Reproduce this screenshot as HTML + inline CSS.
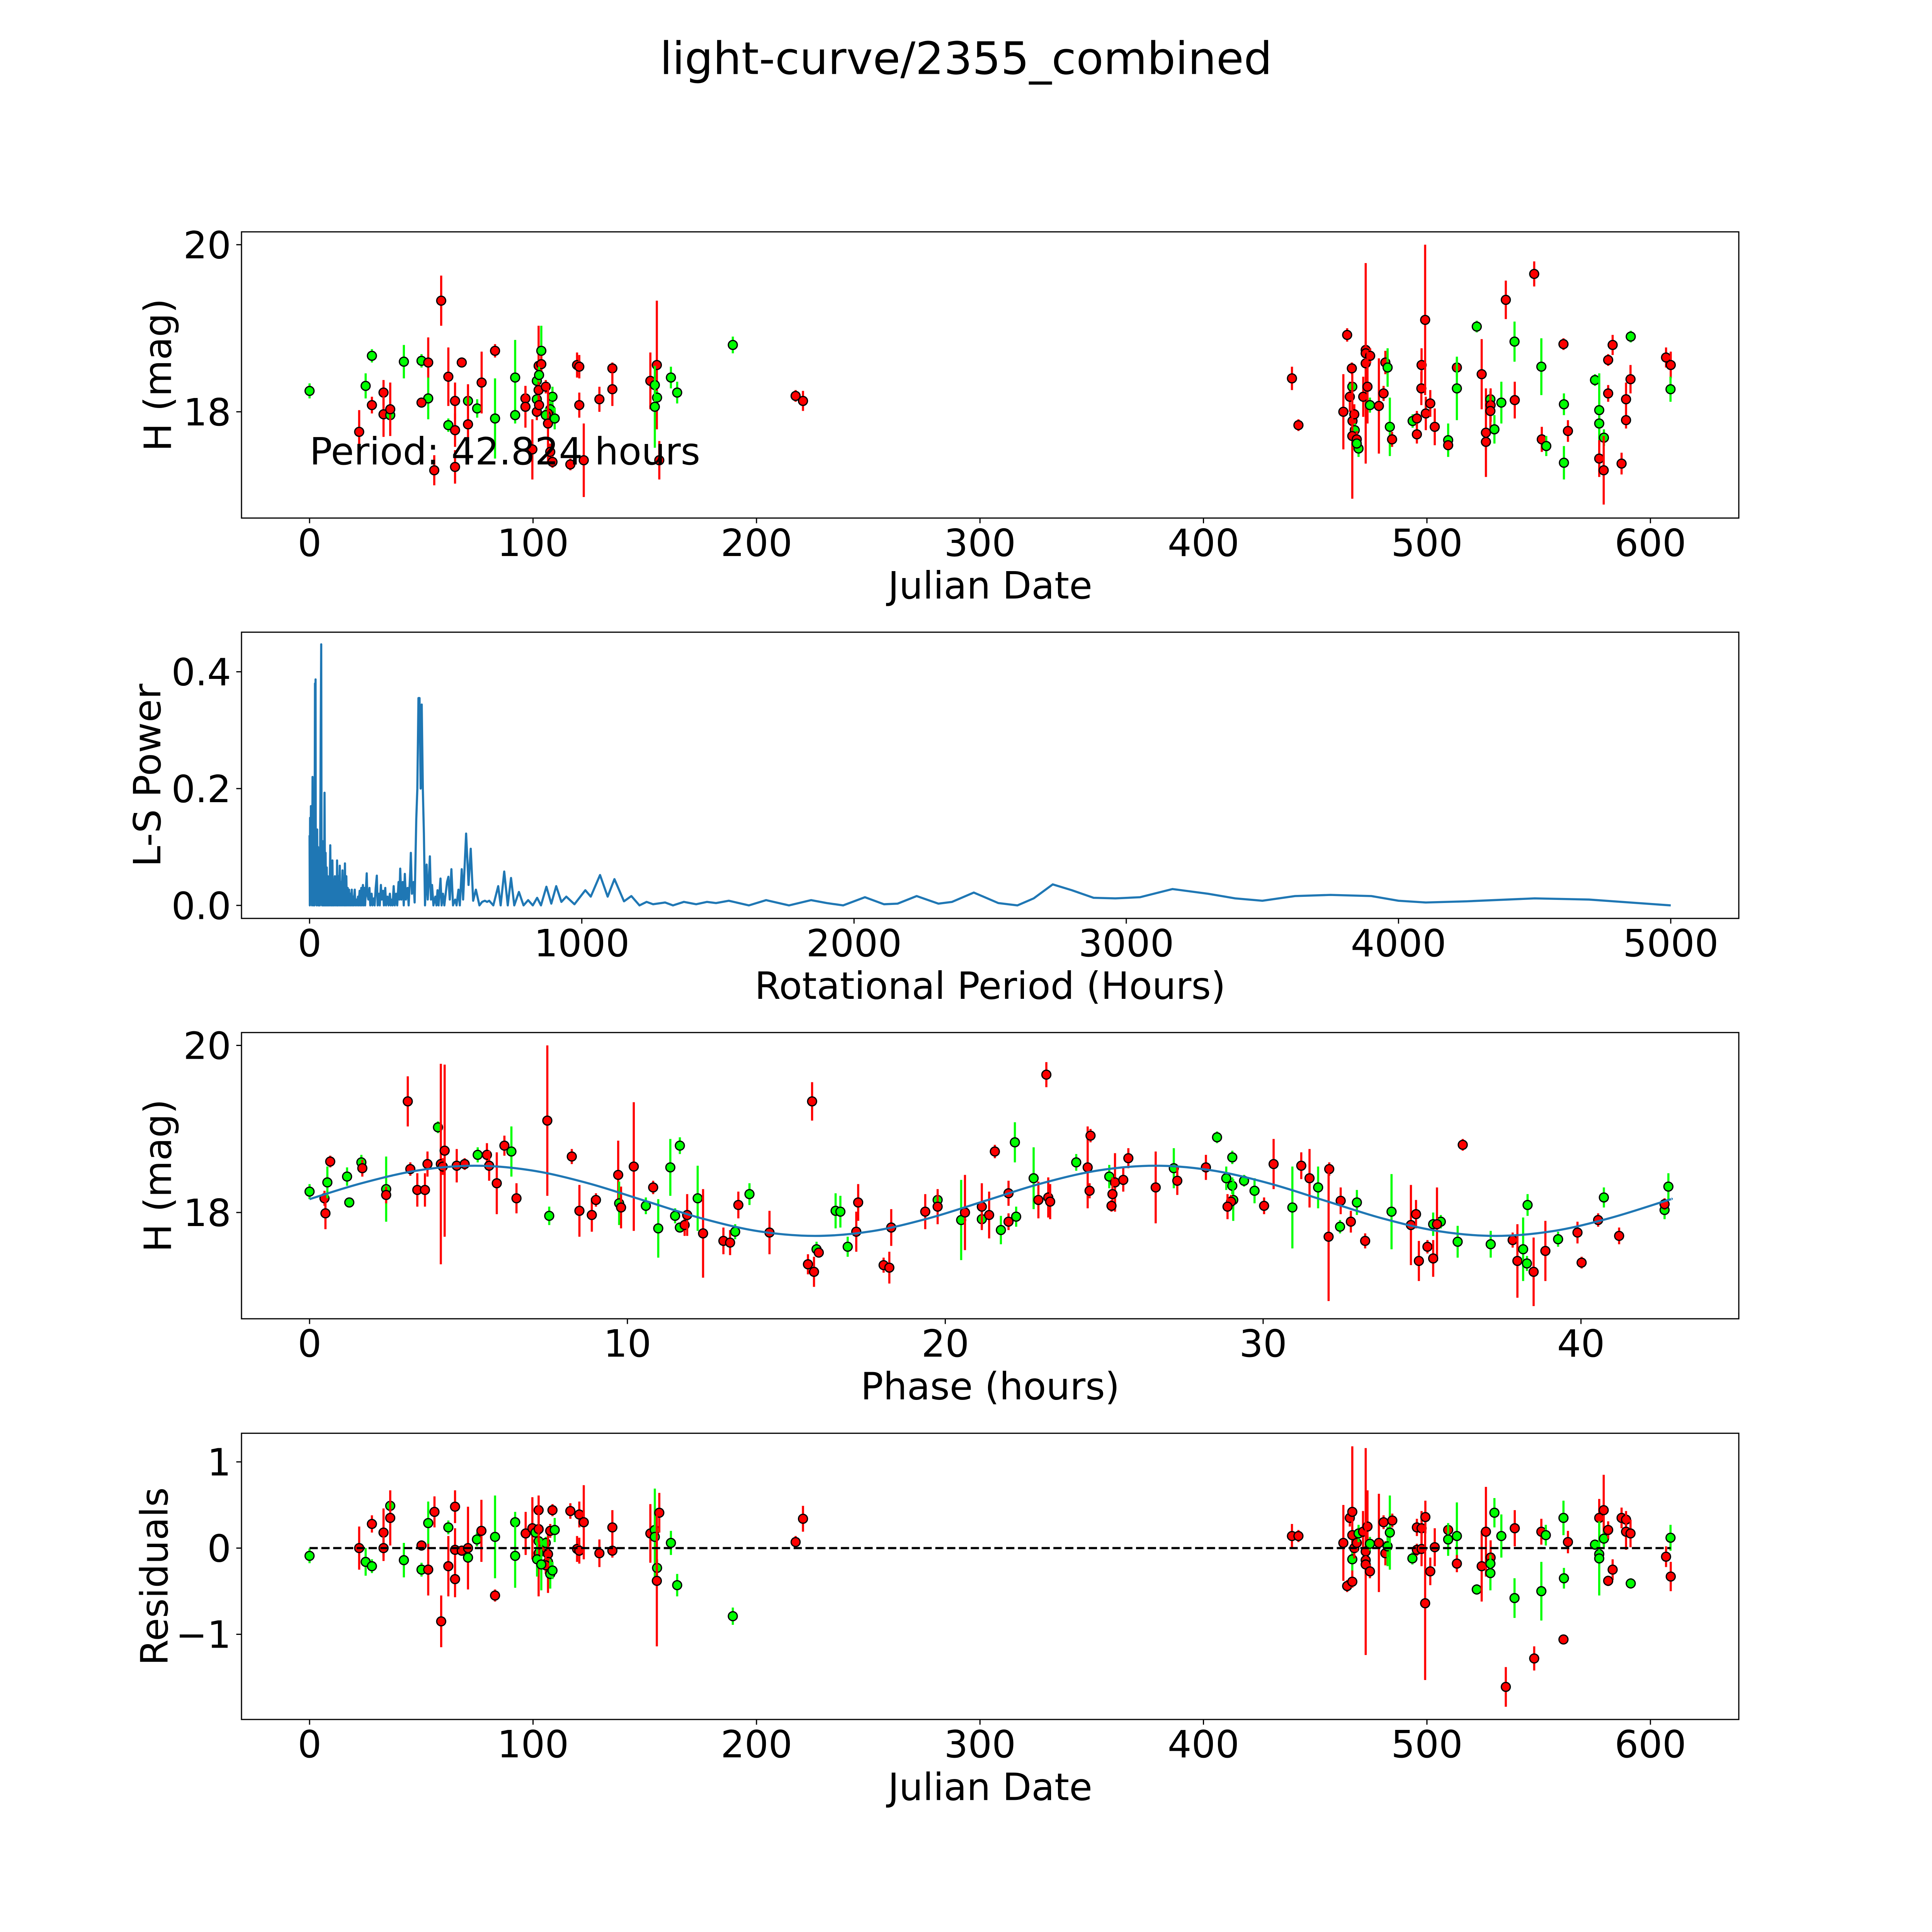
<!DOCTYPE html>
<html><head><meta charset="utf-8"><title>light-curve/2355_combined</title>
<style>html,body{margin:0;padding:0;background:#fff;overflow:hidden;width:100vw;height:100vh}svg{display:block;width:100vw;height:100vh}text{font-family:"DejaVu Sans","Liberation Sans",sans-serif;fill:#000}</style>
</head><body>
<svg id="fig" xmlns="http://www.w3.org/2000/svg" viewBox="0 0 5400 5400" preserveAspectRatio="none">
<rect x="0" y="0" width="5400" height="5400" fill="#fff"/>
<text x="2700" y="207" font-size="125" text-anchor="middle">light-curve/2355_combined</text>
</svg>
<script>
// ---- Panel 1: raw light curve ----
const p1T=[0,22.2,25.1,27.9,27.9,33.1,33.1,36.1,36.1,42.2,50.1,53.1,53.1,50.1,58.9,55.8,62.1,62.1,65.1,65.1,65.1,68.1,70.9,70.9,75,77,83,83,92,92,96.6,96.6,99.7,101.7,101.7,101.7,102.5,103.7,103.7,102.7,102.5,105.7,102.7,108.7,107.7,106.7,105.7,106.7,109.7,107.7,108.7,116.7,119.7,120.7,120.7,122.7,129.7,135.5,135.5,152.5,155.4,154.5,155.5,154.5,156.5,161.7,164.5,189.4,217.5,220.8,
439.6,442.5,462.6,464.3,465.5,466.4,466.6,466.7,467.5,467.7,466.6,468.6,469.4,468.6,472.6,472.6,472.6,474.6,471.5,473.4,474.5,478.5,480.6,481.4,482.4,483.4,484.4,493.6,495.5,495.5,497.6,497.5,499.2,499.5,501.5,503.5,509.5,509.5,513.4,513.4,522.3,524.5,526.4,526.4,528.4,528.5,528.4,530.2,533.3,535.3,539.2,539.3,548.0,551.2,551.4,553.4,561.1,561.3,561.3,563.1,575.2,577.1,577.1,579.2,577.1,579.1,581.1,581.1,583.1,587.1,589.1,589.1,591.1,591.2,607.0,609.1,609.0];
const p1Mag=[18.25,17.76,18.31,18.08,18.67,18.23,17.97,17.96,18.03,18.6,18.61,18.59,18.16,18.11,19.33,17.3,18.42,17.84,18.13,17.78,17.34,18.59,18.13,17.85,18.04,18.35,18.73,17.92,18.41,17.96,18.16,18.06,17.55,18.0,18.15,18.37,18.55,18.73,18.57,18.44,18.26,18.3,18.08,18.18,18.03,17.98,17.96,17.86,17.92,17.52,17.4,17.37,18.56,18.54,18.08,17.42,18.15,18.52,18.27,18.37,18.56,18.32,18.17,18.06,17.42,18.41,18.23,18.8,18.19,18.13,
18.40,17.84,18.0,18.92,18.18,18.52,18.30,17.89,17.97,17.78,17.71,17.67,17.56,17.62,18.58,18.74,18.7,18.67,18.18,18.3,18.08,18.07,18.22,18.59,18.53,17.82,17.67,17.89,17.92,17.73,18.56,18.28,19.1,17.98,18.1,17.82,17.66,17.6,18.53,18.28,19.02,18.45,17.75,17.64,18.15,18.08,18.01,17.79,18.11,19.34,18.84,18.14,19.65,18.54,17.67,17.59,18.81,18.09,17.39,17.77,18.38,18.02,17.86,17.69,17.44,17.3,18.22,18.62,18.8,17.38,18.15,17.9,18.39,18.9,18.65,18.56,18.27];
const p1Err=[.09,.26,.15,.1,.08,.15,.27,.06,.32,.2,.08,.3,.25,.06,.3,.18,.35,.08,.22,.2,.2,.06,.06,.48,.11,.37,.08,.48,.45,.1,.15,.25,.36,.1,.1,.1,.48,.3,.1,.1,.1,.08,.1,.12,.1,.1,.08,.48,.13,.1,.07,.07,.15,.14,.15,.44,.15,.07,.2,.34,.77,.1,.08,.49,.23,.13,.13,.1,.07,.12,
.14,.07,.45,.08,.18,.07,.06,.1,.12,.08,.75,.1,.1,.06,1.2,.1,.1,.09,.24,.44,.09,.57,.09,.14,.23,.35,.09,.08,.09,.11,.2,.2,.9,.2,.16,.22,.2,.05,.11,.38,.07,.42,.53,.1,.1,.2,.2,.17,.25,.23,.24,.22,.15,.34,.15,.12,.07,.13,.2,.13,.07,.44,.1,.1,.22,.41,.1,.07,.12,.13,.2,.1,.17,.07,.12,.16,.15];
const p1Col=("grgrgrrgrg"+"grgrrrrgrr"+"rrgrgrrggg"+"rrrrggrgrg"+"rrrggrgrgr"+"rrrrrrrrrr"+"rgggrgggrr"+
"rrrrrrgrrg"+"rrggrrrrrr"+"grrrggrgrr"+"rrrrrrgrrg"+"grrrgrrggr"+"grrgrgrggr"+"ggggrrrrrr"+"rrrgrrg").split("");
const p1XTicks=[0,100,200,300,400,500,600];
const p1YTicks=[18,20];
const periodLabel="Period: 42.824 hours";

// ---- Panel 2: Lomb-Scargle periodogram ----
const lsPeriod=[0,1,2,3,5,6,8,9,11,12,14,15,17,18,20,21,22,23,25,26,28,29,31,32,34,35,37,38,40,41,42.8,44,46,48,50,52,53,55,57,59,61,63,65,67,69,71,73,76,78,80,82,84,86,88,90,93,95,98,100,101,103,106,108,111,113,116,118,121,123,126,128,130,132,135,137,140,142,145,147,150,152,155,157,160,162,166,168,172,174,178,180,184,186,190,192,196,198,202,204,210,212,216,220,223,228,231,236,239,243,247,250,255,258,262,265,270,273,278,281,286,290,295,298,
300,305,309,313,318,322,327,330,333,337,342,346,350,354,360,364,370,372,376,382,386,392,396,400,404,408,412,416,420,424,430,434,438,442,446,450,455,462,466,470,474,481,485,490,495,505,510,515,521,527,535,540,547,552,559,564,575,584,592,601,611,624,634,644,652,660,675,693,702,715,728,740,752,769,786,803,820,836,850,870,888,906,925,943,973,1013,1033,1067,1095,1120,1155,1182,1212,1238,1262,1306,1335,1375,1420,1460,1493,1540,1614,1677,1761,1842,
1900,1960,2040,2110,2160,2230,2310,2360,2440,2530,2600,2660,2730,2800,2880,2960,3050,3170,3300,3400,3500,3620,3750,3900,4000,4100,4250,4500,4700,4850,5000];
const lsPower=[.12,0,.15,.02,.17,.01,.12,0,.22,.02,.1,0,.05,0,.38,.1,.387,.02,.08,0,.13,.01,.1,0,.07,0,.06,0,.2,.3,.447,.1,0,.11,0,.05,0,.193,0,.09,0,.065,0,.05,0,.04,0,.103,0,.06,0,.077,0,.04,0,.05,0,.03,0,.077,0,.05,0,.068,0,.04,0,.06,0,.04,0,.072,0,.05,0,.03,0,.027,0,.02,0,.027,0,.015,0,.027,0,.01,0,.015,0,.025,0,.03,0,.035,0,.03,0,.055,.02,.01,.03,0,.02,0,.012,0,.03,.051,0,.02,0,.035,.01,.025,0,.03,0,.015,0,.02,0,
.01,0,.033,0,.02,0,.04,.01,.063,.01,.04,0,.054,.01,.03,0,.06,.09,.02,.04,.005,.148,.2,.355,.355,.2,.344,.2,.123,0,.07,.01,.04,.084,.01,.035,0,.015,0,.026,0,.046,0,.02,0,.04,.049,.01,.062,0,.01,0,.027,0,.062,.01,.123,.035,.097,.008,.027,0,.006,.008,.006,.008,0,.033,0,.058,0,.047,0,.023,0,.009,0,.013,0,.032,.003,.033,.006,.015,.002,.026,.015,.052,.015,.045,.007,.016,0,.006,.002,.005,0,.006,.002,.006,.004,.008,0,.009,0,.009,
.004,0,.014,.002,.003,.016,.003,.006,.022,.004,0,.012,.036,.026,.013,.012,.014,.028,.02,.012,.008,.016,.018,.016,.008,.005,.007,.012,.01,.005,0];
const p2XTicks=[0,1000,2000,3000,4000,5000];
const p2YTicks=[0,0.2,0.4];
const p2YLabels=["0.0","0.2","0.4"];

// ---- Panel 3: phased light curve ----
const p3Phase=[0.0,0.47,0.5,0.56,0.65,1.18,1.25,1.63,1.66,2.41,2.41,3.09,3.17,3.39,3.63,3.71,4.04,4.13,4.19,4.25,4.63,4.88,5.29,5.58,5.65,5.89,6.13,6.35,6.51,7.48,7.54,8.25,8.49,8.88,9.01,9.71,9.74,9.8,10.2,10.58,10.81,10.97,11.35,11.65,11.5,11.65,11.8,11.88,12.21,12.38,13.02,13.23,13.39,13.49,13.84,14.47,15.81,15.68,15.87,15.95,16.02,16.55,16.7,16.93,17.2,17.26,18.06,18.24,18.3,19.37,19.76,19.76,20.5,20.62,21.15,21.15,21.38,21.56,21.75,21.99,21.99,22.23,22.19,22.78,22.93,23.24,23.3,23.18,24.12,24.48,24.57,24.54,25.16,25.34,25.26,25.23,25.6,25.76,26.62,27.19,27.3,28.2,28.55,28.84,29.03,29.03,29.06,28.99,28.88,29.4,29.73,30.03,30.33,30.92,31.2,31.46,31.73,32.08,32.06,32.44,32.42,32.76,32.95,33.21,34.04,34.65,34.81,35.17,34.9,35.35,35.59,35.47,35.35,36.28,36.12,37.16,37.85,38.0,38.18,38.32,38.3,38.51,38.88,39.28,39.89,40.02,40.54,40.72,41.2,42.63,42.63,42.75];
const p3Mag=[18.25,18.17,17.99,18.36,18.61,18.43,18.12,18.6,18.53,18.28,18.21,19.33,18.52,18.27,18.27,18.58,19.02,18.58,18.55,18.74,18.56,18.58,18.69,18.69,18.56,18.35,18.8,18.73,18.17,19.1,17.96,18.67,18.02,17.97,18.15,18.45,18.11,18.06,18.55,18.08,18.3,17.81,18.54,18.8,17.96,17.82,17.85,17.97,18.17,17.75,17.66,17.64,17.77,18.09,18.22,17.76,19.33,17.38,17.29,17.56,17.52,18.02,18.01,17.59,17.77,18.12,17.37,17.34,17.82,18.01,18.15,18.07,17.91,18.0,17.92,18.07,17.97,18.73,17.79,17.89,18.23,17.95,18.84,18.41,18.15,18.18,18.13,19.65,18.6,18.54,18.92,18.26,18.43,18.36,18.22,18.08,18.39,18.65,18.3,18.53,18.38,18.54,18.9,18.41,18.66,18.32,18.15,18.13,18.07,18.38,18.26,18.08,18.58,18.06,18.56,18.41,18.3,18.52,17.71,18.14,17.83,17.89,18.12,17.66,18.01,17.85,17.98,17.59,17.42,17.86,17.89,17.86,17.45,18.81,17.65,17.62,17.67,17.42,17.56,18.09,17.39,17.29,17.54,17.68,17.76,17.4,17.91,18.18,17.72,18.03,18.1,18.31];
const p3Err=[.09,.09,.19,.19,.07,.11,.05,.09,.1,.39,.1,.3,.08,.2,.2,.15,.07,1.2,.1,1.03,.2,.07,.09,.14,.18,.37,.12,.3,.18,.9,.11,.09,.31,.2,.08,.41,.26,.25,.77,.1,.08,.35,.34,.1,.09,.06,.13,.25,.39,.53,.16,.15,.09,.16,.13,.26,.23,.12,.18,.09,.06,.21,.19,.12,.24,.22,.09,.19,.22,.21,.08,.21,.48,.45,.1,.28,.28,.08,.17,.1,.15,.12,.24,.37,.22,.24,.21,.15,.1,.49,.08,.09,.14,.35,.2,.07,.14,.12,.43,.24,.17,.15,.07,.14,.08,.1,.25,.08,.15,.07,.15,.1,.3,.49,.16,.35,.25,.08,.77,.16,.08,.13,.15,.09,.45,.48,.17,.08,.24,.14,.08,.44,.22,.07,.19,.16,.09,.44,.38,.13,.09,.41,.36,.09,.13,.07,.08,.12,.1,.11,.07,.16];
const p3Col=("grrgrgggrg"+"rrrrrrgrrr"+"rrgrrrrgrr"+"grrrrrgrrg"+"rgggggrrgr"+"rrgrgrrrrg"+"rgggrrrrrr"+"grgrgrrrgr"+"rgggrrrrgr"+"rrgrrrrrrg"+"rrgggggrrg"+"grrgrrgrrr"+"grgrgrrrrg"+"grrrggrrgg"+"grrgrrrgrg"+"rg").split("");
const modelPhase=[0,1.632,3.416,5.2,6.984,8.768,10.552,12.336,14.12,15.905,17.689,19.473,21.257,23.041,24.825,26.61,28.394,30.178,31.962,33.746,35.53,37.315,39.099,40.883,42.667,42.824];
const modelMag=[18.16,18.35,18.504,18.56,18.504,18.35,18.14,17.93,17.776,17.72,17.776,17.93,18.14,18.35,18.504,18.56,18.504,18.35,18.14,17.93,17.776,17.72,17.776,17.93,18.14,18.16];
const p3XTicks=[0,10,20,30,40];

// ---- Panel 4: residuals ----
const p4T=[0,22.2,25.1,27.9,27.9,33.1,33.1,36.1,36.1,42.2,50.1,50.1,53.1,53.1,55.9,58.9,62.1,62.1,65.1,65.1,65.1,68.1,70.9,70.9,74.9,76.9,83,83,92,92,96.7,99.7,101.1,102.5,102.5,102.5,103.5,102.5,101.8,105.7,106.7,106.7,105.7,103.7,107.7,108.7,107.7,109.7,108.7,116.7,119.7,120.7,120.7,122.7,129.7,135.5,135.5,152.5,154.5,154.5,156.5,155.5,155.4,161.7,164.5,189.4,217.5,220.8,
439.6,442.5,462.6,464.3,465.5,466.6,466.6,466.6,466.6,467.5,468.6,469.4,471.4,473.4,472.6,472.6,472.6,474.5,474.5,478.5,480.6,481.4,482.4,483.4,484.5,493.5,495.5,495.5,497.6,497.6,499.3,499.2,501.5,503.5,509.5,509.5,513.4,513.4,522.3,524.5,526.4,528.5,528.4,528.4,530.2,533.3,535.3,539.2,539.3,548,551.2,551.2,553.2,561.1,561.3,561.1,563.1,575.2,577.1,577.1,577.1,579.1,579.2,581.1,583.1,581.1,587.1,589.1,589.1,591.1,591.2,607,609.1,609];
const p4Res=[-0.09,0,-0.16,-0.21,0.28,0.18,0,0.49,0.35,-0.14,0.03,-0.25,0.29,-0.25,0.42,-0.85,0.24,-0.21,0.48,-0.02,-0.36,-0.03,0,-0.11,0.1,0.2,0.13,-0.55,0.3,-0.09,0.17,0.23,0.18,0.44,0.22,0.08,-0.02,-0.06,-0.13,0.06,-0.07,-0.16,-0.2,-0.19,-0.3,-0.26,0.2,0.21,0.44,0.43,-0.01,0.39,-0.03,0.3,-0.06,0.24,-0.03,0.17,0.21,0.13,0.41,-0.23,-0.38,0.06,-0.43,-0.79,0.07,0.34,
0.14,0.14,0.06,-0.44,0.35,0.42,0.15,-0.13,-0.39,0,0.06,0.17,0.19,0.25,-0.04,-0.14,-0.19,-0.27,0.05,0.06,0.3,-0.06,0.02,0.18,0.32,-0.12,0.24,-0.02,0.23,-0.01,0.36,-0.64,-0.27,0.01,0.21,0.1,0.14,-0.18,-0.48,-0.21,0.19,-0.11,-0.18,-0.29,0.41,0.14,-1.61,-0.58,0.23,-1.28,-0.5,0.19,0.15,0.35,-0.35,-1.06,0.07,0.04,0.35,-0.07,-0.12,0.44,0.11,0.21,-0.25,-0.38,0.35,0.33,0.19,0.17,-0.41,-0.1,-0.33,0.12];
const p4Err=[.085,.25,.16,.08,.1,.28,.15,.06,.32,.2,.06,.08,.25,.3,.18,.3,.08,.35,.19,.25,.21,.06,.48,.06,.08,.36,.48,.07,.12,.37,.25,.36,.08,.06,.39,.06,.1,.5,.2,.07,.12,.36,.1,.3,.17,.1,.08,.14,.07,.09,.15,.15,.15,.43,.16,.2,.08,.34,.1,.56,.23,.1,.76,.14,.13,.1,.07,.15,
.14,.07,.44,.07,.1,.76,.1,.13,.07,.12,.1,.1,.24,.42,1.2,.1,.1,.08,.08,.57,.08,.14,.23,.43,.08,.07,.1,.07,.2,.2,.19,.89,.16,.22,.07,.19,.39,.1,.06,.41,.52,.2,.1,.2,.17,.25,.23,.23,.21,.14,.34,.15,.12,.2,.12,.05,.13,.06,.22,.1,.43,.41,.1,.1,.12,.06,.12,.1,.21,.16,.06,.12,.17,.15];
const p4Col=("grggrrrgrg"+"rggrrrgrrr"+"rrrggrgrgg"+"rrgrrgrrgg"+"rrrgggrgrr"+"rrrrrrrrgg"+"rgrgggrr"+
"rrrrrrrgrr"+"rgrrrrrrgr"+"rrggrgrrrr"+"rrrrrggrgr"+"rrggggrgrr"+"grgggrrgrg"+"grgrrrrrrr"+"grrg").split("");
const p4YTicks=[-1,0,1];
const p4YLabels=["\u22121","0","1"];
const zeroLineT=[0,609.1];

// ---- rendering ----
const NS="http://www.w3.org/2000/svg";
const svg=document.getElementById("fig");
function mk(tag,attrs,parent){const e=document.createElementNS(NS,tag);for(const k in attrs)e.setAttribute(k,attrs[k]);(parent||svg).appendChild(e);return e;}
function lin(d0,d1,r0,r1){return v=>r0+(v-d0)*(r1-r0)/(d1-d0);}
const L=675,W=4185,H=800;
const tops=[648,1767,2886,4006];
const COL={r:"#ff0000",g:"#00ff00"};

function panel(idx,xd,yd,name){
  const top=tops[idx];
  const g=mk("g",{});
  
  
  const cp=mk("clipPath",{id:"clip"+idx},g);
  mk("rect",{x:L,y:top,width:W,height:H},cp);
  const data=mk("g",{"clip-path":"url(#clip"+idx+")"},g);
  
  
  return {g,data,top,sx:lin(xd[0],xd[1],L,L+W),sy:lin(yd[0],yd[1],top+H,top)};
}
function frame(p,name,xt,xl,yt,yl,xlabel,ylabel,ylabX){
  const b=p.top+H;
  xt.forEach((v,i)=>{const x=p.sx(v);
    const t=mk("line",{x1:x,x2:x,y1:b,y2:b+14.6,stroke:"#000","stroke-width":3.3},p.g);
    
    
    const tx=mk("text",{x:x,y:b+106,"font-size":105,"text-anchor":"middle"},p.g);
    tx.textContent=xl[i];
    
    
  });
  yt.forEach((v,i)=>{const y=p.sy(v);
    const t=mk("line",{x1:L-14.6,x2:L,y1:y,y2:y,stroke:"#000","stroke-width":3.3},p.g);
    
    
    const tx=mk("text",{x:L-29,y:y+38,"font-size":105,"text-anchor":"end"},p.g);
    tx.textContent=yl[i];
    
    
  });
  const r=mk("rect",{x:L,y:p.top,width:W,height:H,fill:"none",stroke:"#000","stroke-width":3.3},p.g);
  
  
  const xlab=mk("text",{x:L+W/2,y:b+225,"font-size":105,"text-anchor":"middle"},p.g);
  xlab.textContent=xlabel;
  
  
  const cy=p.top+H/2;
  const ylab=mk("text",{x:ylabX,y:cy,"font-size":105,"text-anchor":"middle",transform:"rotate(-90 "+ylabX+" "+cy+")"},p.g);
  ylab.textContent=ylabel;
  
  
}
function points(p,xs,ys,es,cs,name){
  for(let i=0;i<xs.length;i++){
    const x=p.sx(xs[i]),c=COL[cs[i]]||"#ff0000";
    const eb=mk("line",{x1:x,x2:x,y1:p.sy(ys[i]-es[i]),y2:p.sy(ys[i]+es[i]),stroke:c,"stroke-width":6},p.data);
    
    
    const m=mk("circle",{cx:x,cy:p.sy(ys[i]),r:12.5,fill:c,stroke:"#000","stroke-width":3.5},p.data);
    
    
  }
}
function smoothPath(px,py){
  let d="M"+px[0]+","+py[0];
  for(let i=0;i<px.length-1;i++){
    const x0=px[Math.max(0,i-1)],y0=py[Math.max(0,i-1)],x1=px[i],y1=py[i],x2=px[i+1],y2=py[i+1],x3=px[Math.min(px.length-1,i+2)],y3=py[Math.min(px.length-1,i+2)];
    d+=" C"+(x1+(x2-x0)/6)+","+(y1+(y2-y0)/6)+" "+(x2-(x3-x1)/6)+","+(y2-(y3-y1)/6)+" "+x2+","+y2;
  }
  return d;
}
const magY=[16.728,20.154];
const jdX=[-30.455,639.555];

// Panel 1
const P1=panel(0,jdX,magY,"light-curve-panel");
points(P1,p1T,p1Mag,p1Err,p1Col,"light-curve");
const per=mk("text",{x:P1.sx(0),y:P1.sy(17.37),"font-size":105},P1.g);
per.textContent=periodLabel;


frame(P1,"light-curve",p1XTicks,p1XTicks.map(String),p1YTicks,p1YTicks.map(String),"Julian Date","H (mag)",478);

// Panel 2
const P2=panel(1,[-250,5250],[-0.022275,0.46778],"periodogram-panel");
const pts=lsPeriod.map((v,i)=>P2.sx(v).toFixed(1)+","+P2.sy(lsPower[i]).toFixed(1)).join(" ");
const ln=mk("polyline",{points:pts,fill:"none",stroke:"#1f77b4","stroke-width":6,"stroke-linejoin":"round"},P2.data);


frame(P2,"periodogram",p2XTicks,p2XTicks.map(String),p2YTicks,p2YLabels,"Rotational Period (Hours)","L-S Power",448);

// Panel 3
const P3=panel(2,[-2.1412,44.9652],magY,"phase-panel");
points(P3,p3Phase,p3Mag,p3Err,p3Col,"phase");
const mp=mk("path",{d:smoothPath(modelPhase.map(P3.sx),modelMag.map(P3.sy)),fill:"none",stroke:"#1f77b4","stroke-width":6},P3.data);


frame(P3,"phase",p3XTicks,p3XTicks.map(String),p1YTicks,p1YTicks.map(String),"Phase (hours)","H (mag)",478);

// Panel 4
const P4=panel(3,jdX,[-1.988,1.332],"residuals-panel");
points(P4,p4T,p4Res,p4Err,p4Col,"residual");
const zl=mk("line",{x1:P4.sx(zeroLineT[0]),x2:P4.sx(zeroLineT[1]),y1:P4.sy(0),y2:P4.sy(0),stroke:"#000","stroke-width":6,"stroke-dasharray":"23 10"},P4.data);


frame(P4,"residuals",p1XTicks,p1XTicks.map(String),p4YTicks,p4YLabels,"Julian Date","Residuals",468);
</script>
</body></html>
